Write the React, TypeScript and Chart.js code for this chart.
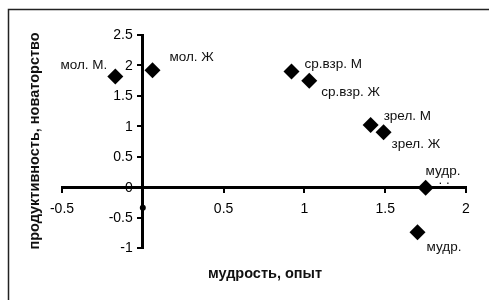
import React, { useEffect, useRef } from "react";
import { Chart, registerables } from "chart.js";

Chart.register(...registerables);

// ---- data ----
const groupLabels = ["мол. М.", "мол. Ж", "ср.взр. М", "ср.взр. Ж", "зрел. М", "зрел. Ж", "мудр.", "мудр."];
const wisdom = [-0.17, 0.06, 0.92, 1.03, 1.41, 1.49, 1.75, 1.7];
const productivity = [1.82, 1.92, 1.9, 1.75, 1.02, 0.9, -0.01, -0.74];
const strayX = [0];
const strayY = [-0.34];
const yTickValues = [2.5, 2, 1.5, 1, 0.5, 0, -0.5, -1];
const xTitle = "мудрость, опыт";
const yTitle = "продуктивность, новаторство";

// label placement (style only): [dx, dy, align]
const labelPlacement: [number, number, CanvasTextAlign][] = [
  [-8, -11, "right"],
  [17, -13, "left"],
  [13, -7, "left"],
  [12, 12, "left"],
  [13, -9, "left"],
  [8, 12, "left"],
  [0, -16, "left"],
  [9, 15, "left"],
];

const FONT = "'Liberation Sans', Arial, sans-serif";

const decorPlugin = {
  id: "decor",
  afterDatasetsDraw(chart: any) {
    const ctx = chart.ctx as CanvasRenderingContext2D;
    const meta = chart.getDatasetMeta(0);
    ctx.save();
    ctx.fillStyle = "#111";
    ctx.font = `13.5px ${FONT}`;
    ctx.textBaseline = "middle";
    meta.data.forEach((el: any, i: number) => {
      const [dx, dy, align] = labelPlacement[i];
      ctx.textAlign = align;
      ctx.fillText(groupLabels[i], el.x + dx, el.y + dy);
    });
    const up = meta.data[6];
    ctx.textAlign = "left";
    ctx.fillText(". .", up.x + 13, up.y - 7);

    // y tick labels, left of the centred axis
    const ys = chart.scales.y;
    const axX = chart.scales.x.getPixelForValue(0);
    ctx.fillStyle = "#000";
    ctx.font = `14px ${FONT}`;
    ctx.textAlign = "right";
    yTickValues.forEach((v) => {
      ctx.fillText(String(v), axX - 10, ys.getPixelForValue(v) + 0.5);
    });
    ctx.restore();
  },
  afterDraw(chart: any) {
    const ctx = chart.ctx as CanvasRenderingContext2D;
    ctx.save();
    ctx.strokeStyle = "#222";
    ctx.lineWidth = 1.5;
    ctx.beginPath();
    ctx.moveTo(8.5, 300);
    ctx.lineTo(8.5, 9.5);
    ctx.lineTo(489, 9.5);
    ctx.stroke();
    ctx.fillStyle = "#111";
    ctx.font = `bold 14.5px ${FONT}`;
    ctx.textAlign = "center";
    ctx.textBaseline = "middle";
    ctx.fillText(xTitle, 265, 274);
    ctx.translate(35, 141);
    ctx.rotate(-Math.PI / 2);
    ctx.fillText(yTitle, 0, 0);
    ctx.restore();
  },
};

export default function App() {
  const ref = useRef<HTMLCanvasElement | null>(null);
  useEffect(() => {
    if (!ref.current) return;
    const chart = new Chart(ref.current, {
      type: "scatter",
      data: {
        datasets: [
          {
            data: wisdom.map((x, i) => ({ x, y: productivity[i] })),
            pointStyle: "rectRot",
            pointRadius: 8,
            backgroundColor: "#000",
            borderColor: "#000",
            borderWidth: 0,
          },
          {
            data: strayX.map((x, i) => ({ x, y: strayY[i] })),
            pointStyle: "circle",
            pointRadius: 3,
            backgroundColor: "#000",
            borderColor: "#000",
            borderWidth: 0,
          },
        ],
      },
      options: {
        animation: false,
        responsive: false,
        layout: { padding: { left: 62, right: 23, top: 35, bottom: 52 } },
        plugins: { legend: { display: false }, tooltip: { enabled: false } },
        scales: {
          x: {
            type: "linear",
            position: { y: 0 } as any,
            min: -0.5,
            max: 2,
            border: { display: true, color: "#000", width: 3 },
            grid: { display: true, drawOnChartArea: false, drawTicks: true, tickLength: 4, color: "#000", lineWidth: 2 },
            ticks: {
              stepSize: 0.5,
              padding: 10,
              color: "#000",
              font: { family: FONT, size: 14 },
              callback: (v: any) => (Number(v) === 0 ? "" : String(v)),
            },
          },
          y: {
            type: "linear",
            position: { x: 0 } as any,
            min: -1,
            max: 2.5,
            border: { display: true, color: "#000", width: 3 },
            grid: { display: true, drawOnChartArea: false, drawTicks: true, tickLength: 4, color: "#000", lineWidth: 2 },
            ticks: {
              stepSize: 0.5,
              color: "#000",
              font: { family: FONT, size: 14 },
              callback: () => "",
            },
          },
        },
      },
      plugins: [decorPlugin],
    });
    return () => chart.destroy();
  }, []);
  return (
    <div style={{ position: "absolute", left: 0, top: 0, width: 489, height: 300, background: "#fff" }}>
      <canvas ref={ref} width={489} height={300} style={{ display: "block" }} />
    </div>
  );
}
